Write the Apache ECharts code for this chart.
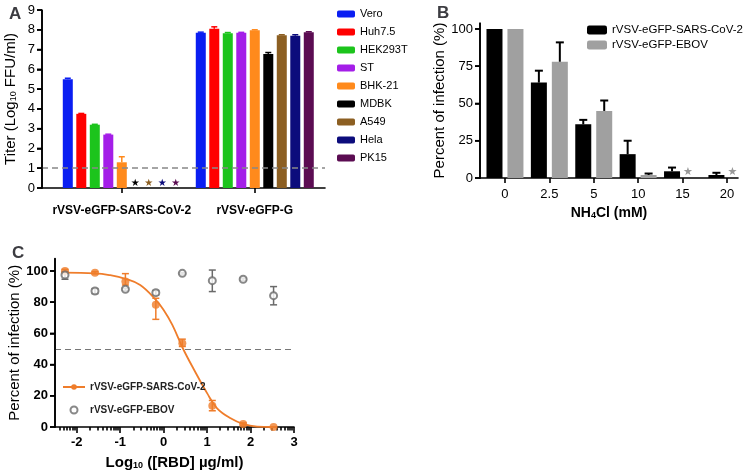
<!DOCTYPE html>
<html><head><meta charset="utf-8">
<script src="https://cdn.jsdelivr.net/npm/echarts@6/dist/echarts.min.js"></script>
<style>html,body{margin:0;padding:0;background:#fff}#c{width:750px;height:474px}</style>
</head><body><div id="c"></div>
<script>
// ---------- Panel A data ----------
const cellLines = ['Vero','Huh7.5','HEK293T','ST','BHK-21','MDBK','A549','Hela','PK15'];
const cellColors = ['#0a1ef2','#ff0000','#1cc41c','#a41ee8','#ff8a1c','#000000','#8c5f22','#0c0c7c','#5b0c52'];
const virusesA = ['rVSV-eGFP-SARS-CoV-2','rVSV-eGFP-G'];
const titerSARS = [5.5, 3.75, 3.2, 2.7, 1.3, 0, 0, 0, 0];
const titerSARSUpper = [5.55, 3.77, 3.22, 2.72, 1.58, null, null, null, null];
const undetectedSARS = [false,false,false,false,false,true,true,true,true];
const titerG = [7.85, 8.05, 7.83, 7.85, 7.98, 6.78, 7.72, 7.7, 7.88];
const titerGUpper = [7.88, 8.15, 7.86, 7.87, 8.0, 6.85, 7.75, 7.75, 7.9];
const limitA = 1;
const ticksA = [0, 1, 2, 3, 4, 5, 6, 7, 8, 9];

// ---------- Panel B data ----------
const nh4clDoses = ['0','2.5','5','10','15','20'];
const seriesB = ['rVSV-eGFP-SARS-CoV-2','rVSV-eGFP-EBOV'];
const infSARS = [100, 64, 36, 16, 4.5, 2];
const infSARSUpper = [100, 72, 39, 25, 7, 3.5];
const infEBOV = [100, 78, 45, 2, 0, 0];
const infEBOVUpper = [100, 91, 52, 3, null, null];
const undetectedEBOV = [false,false,false,false,true,true];
const ticksB = [0, 25, 50, 75, 100];

// ---------- Panel C data ----------
const rbdLog = [-2.27, -1.58, -0.88, -0.18, 0.43, 1.12, 1.83, 2.53];
const cSARS = [100, 98.9, 93.2, 78.3, 53.7, 13.6, 1.9, 0];
const cSARSLow = [99, 98.2, 91, 69, 51.6, 10.4, 1.2, 0];
const cSARSHigh = [101, 99.6, 98.3, 82.5, 56.3, 17, 2.6, 0];
const cEBOV = [97.4, 87.2, 88.3, 86.1, 98.5, 93.8, 94.7, 84.2];
const cEBOVLow = [94.7, 85.5, 87.5, 84.6, 98, 86.8, 94, 78.3];
const cEBOVHigh = [99.6, 88.7, 89, 87.5, 99, 100.6, 95.4, 90];
const fitLog = [-2.3, -1.58, -1.25, -0.88, -0.54, -0.18, 0, 0.2, 0.45, 0.7, 1.0, 1.23, 1.53, 1.84, 2.15, 2.5];
const fitVal = [98.9, 98.5, 97.4, 95, 91, 81.5, 75, 65.5, 50, 36.7, 21.7, 12, 5.8, 1.9, 0.3, 0];
const ticksCx = [-2, -1, 0, 1, 2, 3];
const ticksCy = [0, 20, 40, 60, 80, 100];
const halfLine = 50;

// ---------- styles / axis mapping ----------
const FONT = '"Liberation Sans", Arial, Helvetica, sans-serif';
const ORANGE = '#ef7d2b';
const GREY = '#6a6a6a';
const BAR_A = 10, GAP_A = 0.35;
const BAR_B = 16, GAP_B = 0.31;
const slotA = [3, 8];
const slotB = [9, 25, 41, 57, 73, 89];
const C_SHIFT = 2.5;
const cx = v => v + C_SHIFT;
const Y_MAX = [9, 104, 108];

const minorC = [];
for (let n = -3; n <= 2; n++) for (let k = 2; k <= 9; k++) {
  const v = n + Math.log10(k);
  if (v >= -2.5 && v <= 3) minorC.push(cx(v));
}

const xLine = () => ({ show: true, onZero: false, lineStyle: { color: '#000', width: 1.6 } });
const yLine = () => ({ show: true, onZero: true, lineStyle: { color: '#000', width: 1.6 } });
const tickOut = (len) => ({ show: true, inside: false, length: len, lineStyle: { color: '#000', width: 1.6 } });

// y-axis line + outward ticks, placed through the axes' own scales
function yAxisDecor(k, ticks) {
  return {
    type: 'custom', xAxisIndex: k, yAxisIndex: k, z: 6, silent: true, clip: false,
    data: ticks.map(v => [0, v]),
    renderItem: (p, api) => {
      const pt = api.coord([api.value(0), api.value(1)]);
      const st = { stroke: '#000', lineWidth: 1.6 };
      const ch = [{ type: 'line', shape: { x1: pt[0] - 5, y1: pt[1], x2: pt[0], y2: pt[1] }, style: st }];
      if (p.dataIndex === 0) {
        const a = api.coord([0, 0]), b = api.coord([0, Y_MAX[k]]);
        ch.push({ type: 'line', shape: { x1: a[0], y1: a[1] + 0.8, x2: b[0], y2: b[1] }, style: st });
      }
      return { type: 'group', children: ch };
    }
  };
}

// ---------- series A ----------
const series = [];
cellLines.forEach((name, i) => {
  const d0 = undetectedSARS[i]
    ? { value: [slotA[0], titerSARS[i]], label: { show: true, position: 'top', distance: 0, formatter: '\u2605', color: cellColors[i], fontSize: 10, fontFamily: 'DejaVu Sans' } }
    : { value: [slotA[0], titerSARS[i]] };
  const s = {
    type: 'bar', name, xAxisIndex: 0, yAxisIndex: 0,
    barWidth: BAR_A, barGap: (GAP_A * 100) + '%',
    itemStyle: { color: cellColors[i] },
    data: [d0, [slotA[1], titerG[i]]]
  };
  if (i === 0) s.markLine = {
    silent: true, symbol: 'none', label: { show: false },
    lineStyle: { type: [6, 4], color: '#888', width: 1.5 },
    data: [{ yAxis: limitA }]
  };
  series.push(s);
});
const errA = [];
cellLines.forEach((n, i) => {
  if (titerSARSUpper[i] != null) errA.push([slotA[0], i, titerSARS[i], titerSARSUpper[i]]);
  errA.push([slotA[1], i, titerG[i], titerGUpper[i]]);
});
series.push({
  type: 'custom', xAxisIndex: 0, yAxisIndex: 0, z: 3, silent: true,
  data: errA,
  renderItem: (p, api) => {
    const g = api.value(0), i = api.value(1);
    const b = api.coord([g, api.value(2)]), t = api.coord([g, api.value(3)]);
    const x = b[0] + (i - 4) * BAR_A * (1 + GAP_A);
    const st = { stroke: cellColors[i], lineWidth: 1.5 };
    return { type: 'group', children: [
      { type: 'line', shape: { x1: x, y1: b[1], x2: x, y2: t[1] }, style: st },
      { type: 'line', shape: { x1: x - 3, y1: t[1], x2: x + 3, y2: t[1] }, style: st }
    ]};
  }
});
series.push(yAxisDecor(0, ticksA));

// ---------- series B ----------
series.push({
  type: 'bar', name: seriesB[0], xAxisIndex: 1, yAxisIndex: 1,
  barWidth: BAR_B, barGap: (GAP_B * 100) + '%', itemStyle: { color: '#000' },
  data: infSARS.map((v, i) => [slotB[i], v])
});
series.push({
  type: 'bar', name: seriesB[1], xAxisIndex: 1, yAxisIndex: 1,
  barWidth: BAR_B, barGap: (GAP_B * 100) + '%', itemStyle: { color: '#a0a0a0' },
  data: infEBOV.map((v, i) => undetectedEBOV[i]
    ? { value: [slotB[i], v], label: { show: true, position: 'top', distance: 0, offset: [-5, 0], formatter: '\u2605', color: '#999', fontSize: 11, fontFamily: 'DejaVu Sans' } }
    : [slotB[i], v])
});
const errB = [];
infSARSUpper.forEach((u, i) => { if (u != null && u > infSARS[i]) errB.push([slotB[i], 0, infSARS[i], u]); });
infEBOVUpper.forEach((u, i) => { if (u != null && u > infEBOV[i]) errB.push([slotB[i], 1, infEBOV[i], u]); });
series.push({
  type: 'custom', xAxisIndex: 1, yAxisIndex: 1, z: 3, silent: true,
  data: errB,
  renderItem: (p, api) => {
    const g = api.value(0), k = api.value(1);
    const b = api.coord([g, api.value(2)]), t = api.coord([g, api.value(3)]);
    const x = b[0] + (k - 0.5) * BAR_B * (1 + GAP_B);
    const st = { stroke: '#000', lineWidth: 2 };
    return { type: 'group', children: [
      { type: 'line', shape: { x1: x, y1: b[1], x2: x, y2: t[1] }, style: st },
      { type: 'line', shape: { x1: x - 4, y1: t[1], x2: x + 4, y2: t[1] }, style: st }
    ]};
  }
});
series.push(yAxisDecor(1, ticksB));

// ---------- series C ----------
function errC(color) {
  return (p, api) => {
    const b = api.coord([api.value(0), api.value(1)]), t = api.coord([api.value(0), api.value(2)]);
    const x = b[0];
    const st = { stroke: color, lineWidth: 1.5 };
    return { type: 'group', children: [
      { type: 'line', shape: { x1: x, y1: b[1], x2: x, y2: t[1] }, style: st },
      { type: 'line', shape: { x1: x - 3.5, y1: t[1], x2: x + 3.5, y2: t[1] }, style: st },
      { type: 'line', shape: { x1: x - 3.5, y1: b[1], x2: x + 3.5, y2: b[1] }, style: st }
    ]};
  };
}
series.push({
  type: 'custom', xAxisIndex: 2, yAxisIndex: 2, z: 2, silent: true,
  data: rbdLog.map((x, i) => [cx(x), cEBOVLow[i], cEBOVHigh[i]]), renderItem: errC(GREY)
});
series.push({
  type: 'custom', xAxisIndex: 2, yAxisIndex: 2, z: 2, silent: true,
  data: rbdLog.map((x, i) => [cx(x), cSARSLow[i], cSARSHigh[i]]), renderItem: errC(ORANGE)
});
series.push({
  type: 'line', name: 'rVSV-eGFP-SARS-CoV-2 ', xAxisIndex: 2, yAxisIndex: 2,
  smooth: 0.4, showSymbol: false, symbol: 'circle', symbolSize: 7,
  itemStyle: { color: ORANGE }, lineStyle: { color: ORANGE, width: 1.8 },
  data: fitLog.map((x, i) => [cx(x), fitVal[i]]),
  markLine: {
    silent: true, symbol: 'none', label: { show: false },
    lineStyle: { type: [6, 4], color: '#777', width: 1.2 },
    data: [{ yAxis: halfLine }]
  }
});
series.push({
  type: 'scatter', name: 'rVSV-eGFP-SARS-CoV-2 pts', xAxisIndex: 2, yAxisIndex: 2, z: 4,
  symbol: 'circle', symbolSize: 8, itemStyle: { color: ORANGE },
  data: rbdLog.map((x, i) => [cx(x), cSARS[i]])
});
series.push({
  type: 'scatter', name: 'rVSV-eGFP-EBOV ', xAxisIndex: 2, yAxisIndex: 2, z: 4,
  symbol: 'emptyCircle', symbolSize: 7, itemStyle: { color: GREY, borderWidth: 1.5 },
  data: rbdLog.map((x, i) => [cx(x), cEBOV[i]])
});
series.push(yAxisDecor(2, ticksCy));

const option = {
  backgroundColor: '#fff',
  animation: false,
  textStyle: { fontFamily: FONT, color: '#000' },
  title: [
    { text: 'A', left: 4, top: 1, textStyle: { fontSize: 17, fontWeight: 'bold', fontFamily: FONT } },
    { text: 'B', left: 432, top: 0, textStyle: { fontSize: 17, fontWeight: 'bold', fontFamily: FONT } },
    { text: 'C', left: 7, top: 240, textStyle: { fontSize: 17, fontWeight: 'bold', fontFamily: FONT } }
  ],
  legend: [
    {
      data: cellLines, orient: 'vertical', left: 337, top: 8, padding: 0,
      itemWidth: 18, itemHeight: 7, itemGap: 6,
      textStyle: { fontSize: 11, lineHeight: 12, fontFamily: FONT, color: '#000' }
    },
    {
      data: seriesB, orient: 'vertical', left: 587, top: 24, padding: 0,
      itemWidth: 20, itemHeight: 9, itemGap: 3,
      textStyle: { fontSize: 11.5, lineHeight: 11, fontFamily: FONT, color: '#000' },
      formatter: n => n
    },
    {
      data: [{ name: 'rVSV-eGFP-SARS-CoV-2 ' }, { name: 'rVSV-eGFP-EBOV ' }],
      orient: 'vertical', left: 62, top: 381, padding: 0,
      itemWidth: 22, itemHeight: 7, itemGap: 11,
      textStyle: { fontSize: 10, fontWeight: 'bold', lineHeight: 12, fontFamily: FONT, color: '#222' },
      formatter: n => n.trim()
    }
  ],
  grid: [
    { left: 42, top: 10, width: 283, height: 178 },
    { left: 480, top: 23, width: 258, height: 155 },
    { left: 55, top: 258.5, width: 239, height: 168.5 }
  ],
  xAxis: [
    {
      type: 'value', gridIndex: 0, min: 0, max: 10.64, position: 'bottom',
      axisLine: xLine(), splitLine: { show: false },
      axisTick: Object.assign(tickOut(5), { customValues: slotA }),
      axisLabel: { customValues: slotA, formatter: v => virusesA[slotA.indexOf(Math.round(v))], fontSize: 12, fontWeight: 'bold', margin: 17, color: '#000', fontFamily: FONT }
    },
    {
      type: 'value', gridIndex: 1, min: 0, max: 93, position: 'bottom',
      axisLine: xLine(), splitLine: { show: false },
      axisTick: Object.assign(tickOut(5), { customValues: slotB }),
      axisLabel: { customValues: slotB, formatter: v => nh4clDoses[slotB.indexOf(Math.round(v))], fontSize: 13, margin: 10, color: '#000', fontFamily: FONT },
      name: 'NH{s|4}Cl (mM)', nameLocation: 'middle', nameGap: 28,
      nameTextStyle: { fontSize: 14, fontWeight: 'bold', color: '#000', fontFamily: FONT,
        rich: { s: { fontSize: 9, fontWeight: 'bold', verticalAlign: 'bottom', fontFamily: FONT } } }
    },
    {
      type: 'value', gridIndex: 2, min: 0, max: 5.5, position: 'bottom',
      axisLine: xLine(), splitLine: { show: false },
      axisTick: Object.assign(tickOut(6), { customValues: ticksCx.map(cx) }),
      axisLabel: { customValues: ticksCx.map(cx), formatter: v => String(Math.round(v - C_SHIFT)), fontSize: 13, fontWeight: 'bold', margin: 9, color: '#000', fontFamily: FONT },
      name: 'Log{s|10} ([RBD] \u00b5g/ml)', nameLocation: 'middle', nameGap: 28,
      nameTextStyle: { fontSize: 15, fontWeight: 'bold', color: '#000', fontFamily: FONT,
        rich: { s: { fontSize: 9, fontWeight: 'bold', verticalAlign: 'bottom', fontFamily: FONT } } }
    },
    {
      type: 'value', gridIndex: 2, min: 0, max: 5.5, position: 'bottom', offset: 0,
      axisLine: { show: false, onZero: false }, splitLine: { show: false },
      axisTick: Object.assign(tickOut(3.5), { customValues: minorC }),
      axisLabel: { show: false }
    }
  ],
  yAxis: [
    {
      type: 'value', gridIndex: 0, min: 0, max: Y_MAX[0], interval: 1,
      axisLine: yLine(), splitLine: { show: false }, axisTick: tickOut(5),
      axisLabel: { fontSize: 13, margin: 7, color: '#000', fontFamily: FONT },
      name: 'Titer (Log{s|10} FFU/ml)', nameLocation: 'middle', nameGap: 24,
      nameTextStyle: { fontSize: 15, color: '#000', fontFamily: FONT,
        rich: { s: { fontSize: 9, verticalAlign: 'bottom', fontFamily: FONT } } }
    },
    {
      type: 'value', gridIndex: 1, min: 0, max: Y_MAX[1],
      axisLine: yLine(), splitLine: { show: false },
      axisTick: Object.assign(tickOut(5), { customValues: ticksB }),
      axisLabel: { customValues: ticksB, fontSize: 13, margin: 7, color: '#000', fontFamily: FONT },
      name: 'Percent of infection (%)', nameLocation: 'middle', nameGap: 26,
      nameTextStyle: { fontSize: 15, color: '#000', fontFamily: FONT }
    },
    {
      type: 'value', gridIndex: 2, min: 0, max: Y_MAX[2],
      axisLine: yLine(), splitLine: { show: false },
      axisTick: Object.assign(tickOut(5), { customValues: ticksCy }),
      axisLabel: { customValues: ticksCy, fontSize: 13, fontWeight: 'bold', margin: 7, color: '#000', fontFamily: FONT },
      name: 'Percent of infection (%)', nameLocation: 'middle', nameGap: 30,
      nameTextStyle: { fontSize: 15, color: '#000', fontFamily: FONT }
    }
  ],
  series
};
const chart = echarts.init(document.getElementById('c'));
chart.setOption(option);
</script>
</body></html>
